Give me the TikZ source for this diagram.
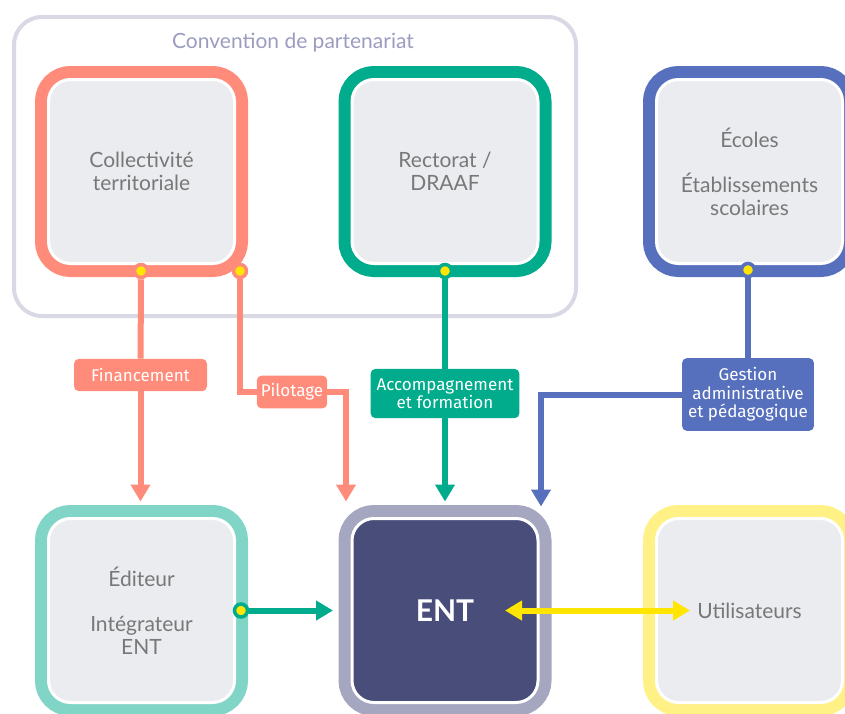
\documentclass[tikz,border=0pt]{standalone}
\usepackage{fontspec}
\setmainfont{Lato}
\newfontfamily\etiq{Fira Sans}
\usetikzlibrary{arrows.meta}

\definecolor{saumon}{HTML}{FF8C7A}
\definecolor{vert}{HTML}{00AC8C}
\definecolor{bleu}{HTML}{5770BE}
\definecolor{turquoise}{HTML}{80D5C6}
\definecolor{ardoise}{HTML}{A5A6BF}
\definecolor{nuit}{HTML}{484D7A}
\definecolor{paille}{HTML}{FFF185}
\definecolor{jaune}{HTML}{FFE500}
\definecolor{fond}{HTML}{EBECF0}
\definecolor{texte}{HTML}{787878}
\definecolor{cadre}{HTML}{D9D9E6}
\definecolor{lavande}{HTML}{9B9CC0}

\def\marge{15.5pt}

\begin{document}
\begin{tikzpicture}[x=1pt, y=-1pt,
    Pointe/.tip={Triangle[width=19pt,length=17pt]},
    bloc/.style={rounded corners=22pt, minimum width=186pt, minimum height=184pt, fill=fond, draw=white, line width=3pt, preaction={draw=#1, line width=27pt}, text=texte, align=center, font=\fontsize{21}{23}\selectfont},
    etiquette/.style={rounded corners=5pt, fill=#1, text=white, align=center, font=\etiq\fontsize{17}{18.5}\selectfont, inner xsep=6pt, inner ysep=9.5pt},
    point/.style={circle, fill=jaune, draw=#1, line width=3.5pt, minimum size=13pt, inner sep=0pt},
    trait/.style={draw=#1, line width=6pt},
    fleche/.style={trait=#1, -Pointe}]

    \useasboundingbox (0,0) rectangle (845,713);
    \clip (0,0) rectangle (845,713);

    % convention
    \node[draw=cadre, line width=4pt, rounded corners=28pt, minimum width=562pt, minimum height=299pt] (convention) at (295,166.5) {};
    \node[text=lavande, font=\fontsize{21}{24}\selectfont] (titre) at (293,43) {Convention de partenariat};

    % acteurs
    \node[bloc=saumon] (collectivite) at (141.5,171.5) {Collectivité\\territoriale};
    \node[bloc=vert] (rectorat) at (445,171.5) {Rectorat /\\DRAAF};
    \node[bloc=bleu] (ecoles) at (749.5,171.5) {Écoles\\[22pt]Établissements\\scolaires};
    \node[bloc=turquoise] (editeur) at (141.5,610.5) {Éditeur\\[22pt]Intégrateur\\ENT};
    \node[bloc=ardoise, fill=nuit, text=white, font=\bfseries\fontsize{30}{32}\selectfont] (ent) at (445,610.5) {ENT};
    \node[bloc=paille] (utilisateurs) at (749.5,610.5) {Utilisateurs};

    % points de depart
    \node[point=saumon] (p-fin) at (141,271) {};
    \node[point=saumon] (p-pil) at (240,271) {};
    \node[point=vert] (p-acc) at (445,271) {};
    \node[point=bleu] (p-ges) at (748,270) {};
    \node[point=vert] (p-edi) at (241,610.5) {};

    % etiquettes
    \node[etiquette=saumon, minimum width=133pt] (financement) at (140.5,375) {Financement};
    \node[etiquette=saumon, inner xsep=4pt, inner ysep=8pt] (pilotage) at (292,392) {Pilotage};
    \node[etiquette=vert] (accompagnement) at (445,393.5) {Accompagnement\\et formation};
    \node[etiquette=bleu] (gestion) at (748,394.5) {Gestion\\administrative\\et pédagogique};

    % liens
    \draw[trait=saumon] (p-fin) -- (financement);
    \draw[fleche=saumon, shorten >=\marge] (financement) -- (financement |- editeur.north);
    \draw[trait=saumon] (p-pil) |- (pilotage.west);
    \draw[fleche=saumon, shorten >=\marge] (pilotage.east) -| ([xshift=-99pt]ent.north);
    \draw[trait=vert] (p-acc) -- (accompagnement);
    \draw[fleche=vert, shorten >=\marge] (accompagnement) -- (ent.north);
    \draw[trait=bleu] (p-ges) -- (gestion);
    \draw[fleche=bleu, shorten >=10.5pt] (gestion.west) -| ([xshift=96pt]ent.north);
    \draw[fleche=vert, shorten >=17.5pt] (p-edi) -- (ent.west);
    \draw[fleche=jaune, Pointe-Pointe, shorten <=60pt, shorten >=59.5pt] (ent.center) -- (utilisateurs.center);
\end{tikzpicture}
\end{document}
